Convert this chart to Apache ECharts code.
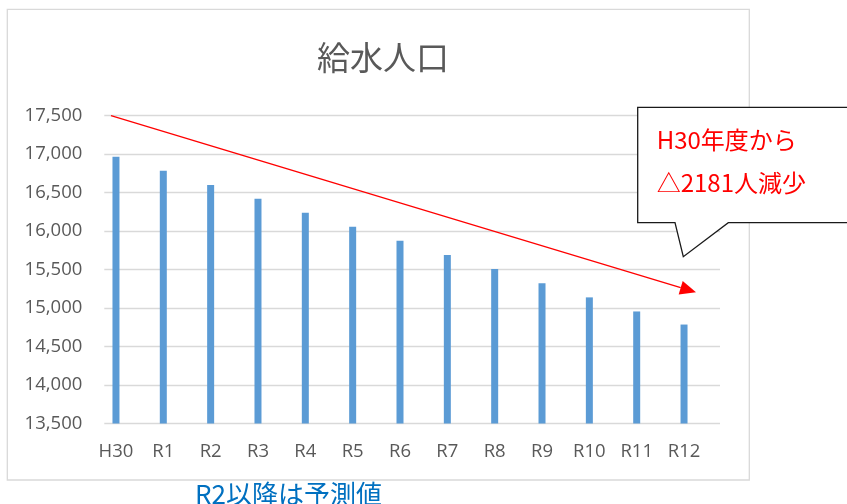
<!DOCTYPE html>
<html>
<head>
<meta charset="utf-8">
<script src="https://cdn.jsdelivr.net/npm/echarts@6/dist/echarts.min.js"></script>
<style>
html,body{margin:0;padding:0;background:#fff;}
#chart{width:847px;height:504px;}
</style>
</head>
<body>
<div id="chart"></div>
<script>
const titleText = '給水人口';
const categories = ['H30','R1','R2','R3','R4','R5','R6','R7','R8','R9','R10','R11','R12'];
const population = [16967,16785,16600,16421,16239,16057,15875,15689,15507,15321,15139,14956,14786];
const yMin = 13500, yMax = 17500, yStep = 500;
const calloutLines = ['H30年度から','△2181人減少'];
const noteText = 'R2以降は予測値';

const chart = echarts.init(document.getElementById('chart'), null, {renderer:'canvas'});
const labelFont = '"Open Sans", "Liberation Sans", sans-serif';
const cjkFont = '"Noto Sans CJK JP", "Noto Sans", sans-serif';

// arrow geometry (annotation)
const ax1 = 111, ay1 = 115.7, tipX = 696, tipY = 292.3;
const dx = tipX - ax1, dy = tipY - ay1, len = Math.sqrt(dx*dx+dy*dy);
const ux = dx/len, uy = dy/len, headL = 16, headW = 7;
const bx = tipX - headL*ux, by = tipY - headL*uy;

chart.setOption({
  backgroundColor:'#fff',
  animation:false,
  title:{
    text:titleText, left:378, top:36, textAlign:'center',
    textStyle:{fontFamily:cjkFont, fontSize:33, fontWeight:'normal', color:'#595959'}
  },
  grid:[
    {left:104.3, top:115.7, width:615.7, height:307.8},
    {left:92.3, top:115.7, width:615.4, height:307.8}
  ],
  xAxis:[
    {gridIndex:0, type:'value', show:false, min:0, max:1},
    {gridIndex:1, type:'category', data:categories,
     axisLine:{show:false}, axisTick:{show:false},
     axisLabel:{color:'#595959', fontFamily:labelFont, fontSize:18.5, margin:19}}
  ],
  yAxis:[
    {gridIndex:0, type:'value', min:yMin, max:yMax, interval:yStep,
     axisLine:{show:false}, axisTick:{show:false},
     axisLabel:{color:'#595959', fontFamily:labelFont, fontSize:18.5, margin:22,
       formatter:v=>v.toLocaleString('en-US')},
     splitLine:{show:true, lineStyle:{color:'#D9D9D9', width:1.3}}},
    {gridIndex:1, type:'value', min:yMin, max:yMax, interval:yStep, show:false,
     splitLine:{show:false}}
  ],
  series:[
    {type:'bar', xAxisIndex:1, yAxisIndex:1, data:population, barWidth:7,
     itemStyle:{color:'#5B9BD5'}, z:3}
  ],
  graphic:[
    {type:'rect', shape:{x:7.3, y:9.3, width:742, height:470.7},
     style:{fill:null, stroke:'#D9D9D9', lineWidth:1.3}, z:0, silent:true},
    {type:'line', shape:{x1:ax1, y1:ay1, x2:bx, y2:by},
     style:{stroke:'#FF0000', lineWidth:1.3}, z:10},
    {type:'polygon', shape:{points:[[tipX,tipY],[bx+headW*(-uy), by+headW*ux],[bx-headW*(-uy), by-headW*ux]]},
     style:{fill:'#FF0000'}, z:10},
    {type:'polygon', shape:{points:[[637.7,107.3],[860,107.3],[860,222.7],[728.3,222.7],[683.3,256.7],[675,222.7],[637.7,222.7]]},
     style:{fill:'#fff', stroke:'#1a1a1a', lineWidth:1.3}, z:20},
    {type:'text', x:656.7, y:140, z:21,
     style:{text:calloutLines[0], fill:'#FF0000', fontFamily:cjkFont, fontSize:24, verticalAlign:'middle'}},
    {type:'text', x:656.7, y:183.3, z:21,
     style:{text:calloutLines[1], fill:'#FF0000', fontFamily:cjkFont, fontSize:24, verticalAlign:'middle'}},
    {type:'text', x:195, y:494, z:21,
     style:{text:noteText, fill:'#0070C0', fontFamily:cjkFont, fontSize:26, verticalAlign:'middle'}}
  ]
});
</script>
</body>
</html>
